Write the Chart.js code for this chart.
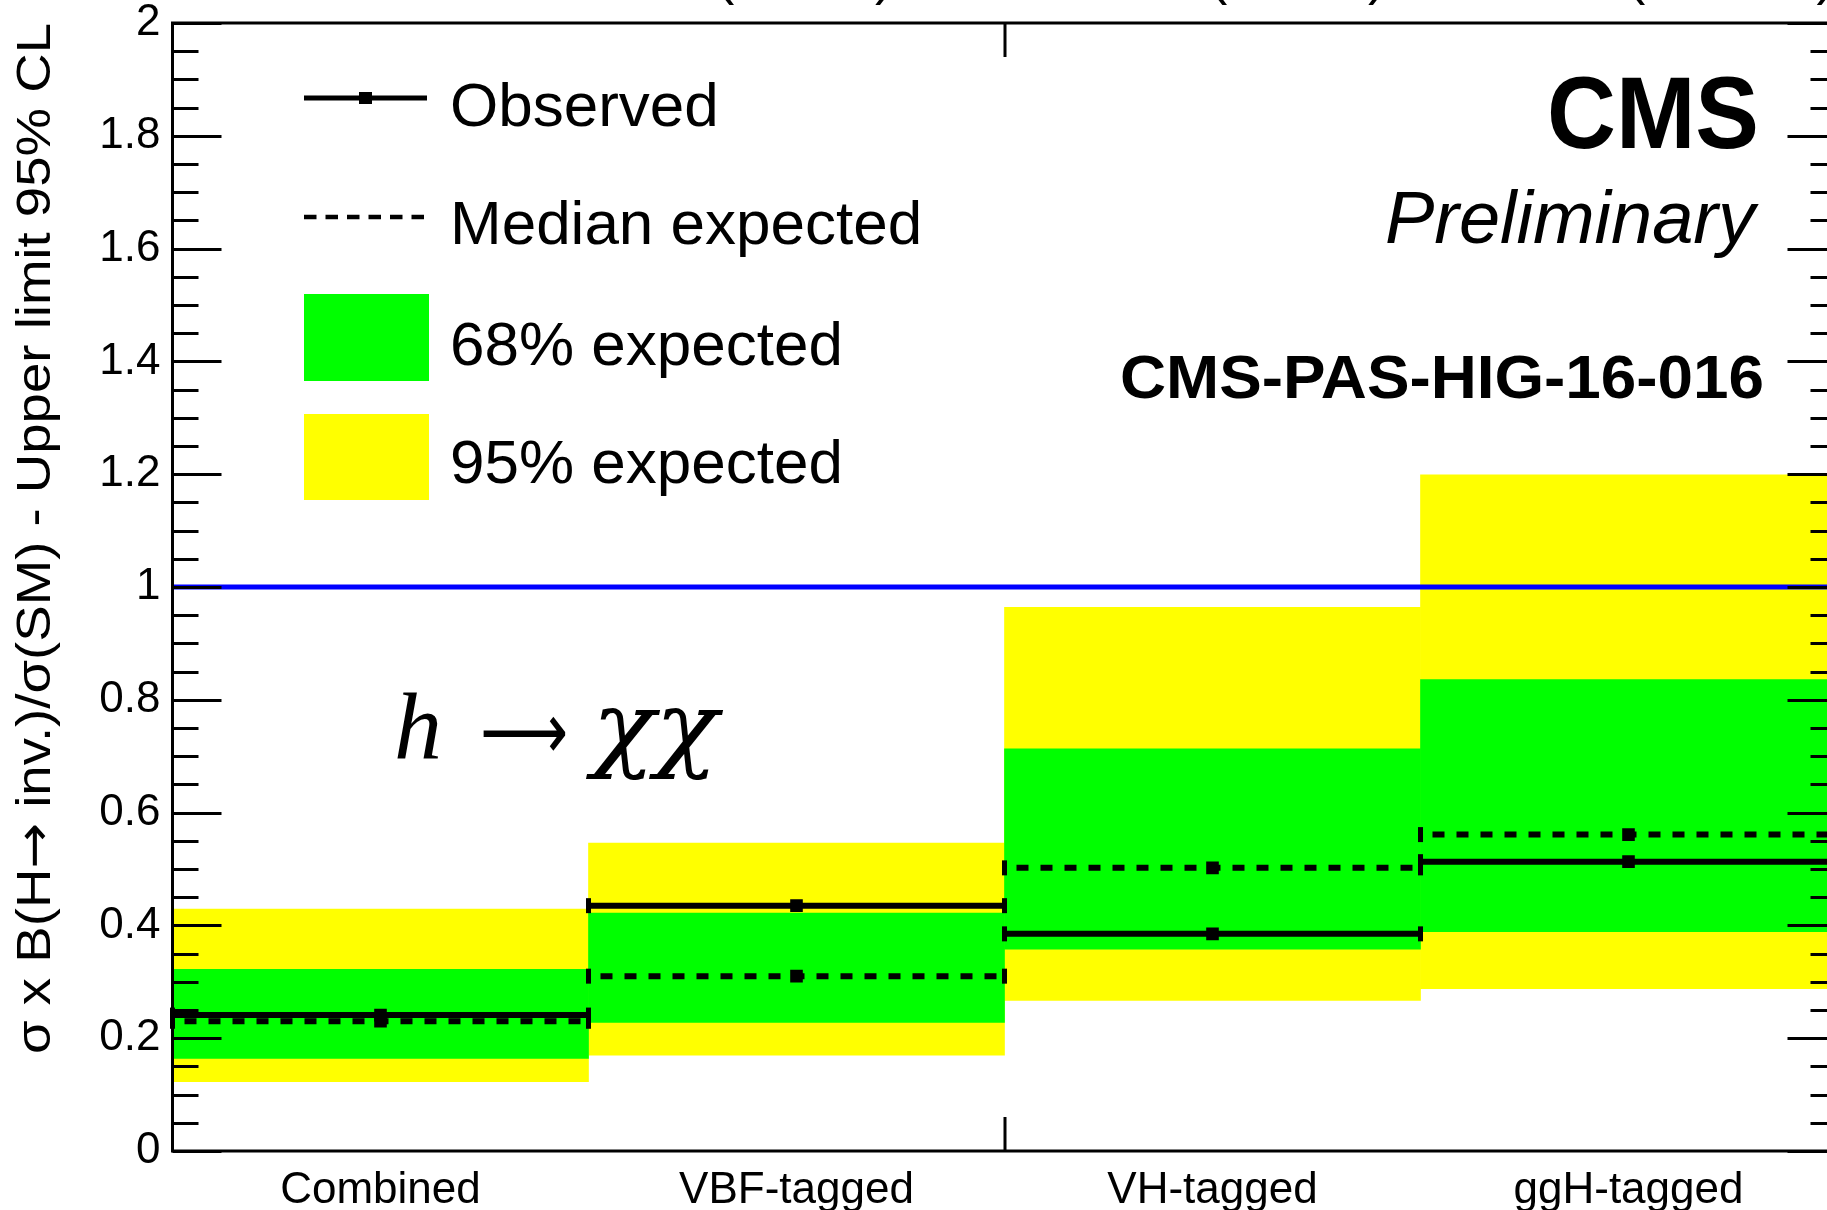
<!DOCTYPE html>
<html>
<head>
<meta charset="utf-8">
<script src="https://cdn.jsdelivr.net/npm/chart.js@4.4.1/dist/chart.umd.min.js"></script>
<style>
  html, body { margin: 0; padding: 0; background: #ffffff; overflow: hidden; }
  canvas { display: block; }
</style>
</head>
<body>
<canvas id="limits" width="1860" height="1210"></canvas>
<script>
// Upper limits on sigma x B(H -> inv.) / sigma(SM), 95% CL, per analysis category
const categories = ['Combined', 'VBF-tagged', 'VH-tagged', 'ggH-tagged'];
const observed   = [0.241, 0.435, 0.385, 0.513];
const expected   = [0.230, 0.310, 0.502, 0.561];
const band68Low  = [0.164, 0.228, 0.358, 0.389];
const band68High = [0.322, 0.422, 0.713, 0.836];
const band95Low  = [0.123, 0.170, 0.267, 0.288];
const band95High = [0.429, 0.546, 0.964, 1.199];
const smReference = 1;

const yTickValues = [0, 0.2, 0.4, 0.6, 0.8, 1, 1.2, 1.4, 1.6, 1.8, 2];
const yTickLabels = ['0', '0.2', '0.4', '0.6', '0.8', '1', '1.2', '1.4', '1.6', '1.8', '2'];
const yMinorStep = 0.05;
const xDivisionTicks = [2];

const SANS = '"Liberation Sans", Arial, Helvetica, sans-serif';
const SERIF = '"Liberation Serif", "DejaVu Serif", serif';
const SYMB = '"DejaVu Sans", sans-serif';

// One horizontal segment per category: left edge, centre, right edge, then a gap.
function binSegments(values) {
  const pts = [];
  values.forEach((v, i) => {
    pts.push({ x: i, y: v }, { x: i + 0.5, y: v }, { x: i + 1, y: v }, { x: i + 1, y: null });
  });
  return pts;
}

const isCentre = (c) => c.dataIndex % 4 === 1;
const markerStyle = (c) => (isCentre(c) ? 'rect' : 'line');
const markerRotation = (c) => (isCentre(c) ? 0 : 90);
const markerRadius = (c) => (isCentre(c) ? 7.5 : 7.5);
const markerBorder = (c) => (isCentre(c) ? 2 : 5);

function drawText(ctx, text, x, y, font, align, targetWidth) {
  ctx.save();
  ctx.font = font;
  const w = ctx.measureText(text).width;
  const sx = targetWidth ? targetWidth / w : 1;
  ctx.translate(x, y);
  ctx.scale(sx, 1);
  ctx.textAlign = align;
  ctx.textBaseline = 'alphabetic';
  ctx.fillStyle = '#000';
  ctx.fillText(text, 0, 0);
  ctx.restore();
}

// Text made of runs in different fonts, centred on (x, y) and fitted to a width
function drawRuns(ctx, runs, x, y, targetWidth) {
  ctx.save();
  let total = 0;
  const widths = runs.map(r => { ctx.font = r.font; const w = ctx.measureText(r.text).width; total += w; return w; });
  const sx = targetWidth ? targetWidth / total : 1;
  ctx.translate(x, y);
  ctx.scale(sx, 1);
  ctx.textAlign = 'left';
  ctx.textBaseline = 'alphabetic';
  ctx.fillStyle = '#000';
  let cx = -total / 2;
  runs.forEach((r, i) => { ctx.font = r.font; ctx.fillText(r.text, cx, r.dy || 0); cx += widths[i]; });
  ctx.restore();
}

// ROOT-style frame with inward ticks on both y axes
const framePlugin = {
  id: 'frame',
  afterDatasetsDraw(chart) {
    const { ctx, chartArea: a, scales } = chart;
    const y = scales.y, xl = scales.xl;
    ctx.save();
    ctx.strokeStyle = '#000';
    ctx.lineWidth = 3;
    ctx.lineCap = 'butt';
    ctx.strokeRect(a.left, a.top, a.right - a.left, a.bottom - a.top);
    const nMinor = Math.round((y.max - y.min) / yMinorStep);
    ctx.beginPath();
    for (let k = 0; k <= nMinor; k++) {
      const v = y.min + k * yMinorStep;
      const py = Math.round(y.getPixelForValue(v)) + 0.5;
      const len = (k % 4 === 0) ? 49 : 26;
      ctx.moveTo(a.left, py); ctx.lineTo(a.left + len, py);
      ctx.moveTo(a.right, py); ctx.lineTo(a.right - len, py);
    }
    xDivisionTicks.forEach(v => {
      const px = Math.round(xl.getPixelForValue(v));
      ctx.moveTo(px, a.top); ctx.lineTo(px, a.top + 34);
      ctx.moveTo(px, a.bottom); ctx.lineTo(px, a.bottom - 34);
    });
    ctx.stroke();
    ctx.restore();
  }
};

// Legend, labels and annotations
const textPlugin = {
  id: 'annotations',
  afterDraw(chart) {
    const { ctx } = chart;
    const ds = chart.data.datasets;

    // luminosity / energy header line (sits at the very top edge)
    const header = [
      { lumi: '4.9 fb\u207B\u00B9 ', energy: '(7 TeV)', x: 716 },
      { lumi: '+ 19.7 fb\u207B\u00B9 ', energy: '(8 TeV)', x: 1209 },
      { lumi: '+ 2.3 fb\u207B\u00B9 ', energy: '(13 TeV)', x: 1627 }
    ];
    header.forEach(h => {
      drawText(ctx, h.lumi, h.x, -7, '55px ' + SANS, 'right');
      drawText(ctx, h.energy, h.x, -7, '55px ' + SANS, 'left');
    });

    // y axis title
    ctx.save();
    ctx.translate(50, 538.5);
    ctx.rotate(-Math.PI / 2);
    drawRuns(ctx, [
      { text: '\u03C3 x B(H', font: '49px ' + SANS },
      { text: '\u2192', font: '49px ' + SYMB },
      { text: ' inv.)/\u03C3(SM) - Upper limit 95% CL', font: '49px ' + SANS }
    ], 0, 0, 1031);
    ctx.restore();

    // legend
    const obsDs = ds.find(d => d.key === 'obs');
    const expDs = ds.find(d => d.key === 'exp');
    const g68 = ds.find(d => d.key === 'b68');
    const y95 = ds.find(d => d.key === 'b95');
    const symL = 304, symR = 427, textX = 450;
    ctx.save();
    ctx.strokeStyle = '#000';
    ctx.lineWidth = 5;
    ctx.beginPath(); ctx.moveTo(symL, 98); ctx.lineTo(symR, 98); ctx.stroke();
    ctx.fillStyle = '#000';
    ctx.fillRect(359, 92, 13, 12);
    ctx.setLineDash([12.5, 9]);
    ctx.lineWidth = 4.5;
    ctx.beginPath(); ctx.moveTo(symL, 217); ctx.lineTo(symR, 217); ctx.stroke();
    ctx.setLineDash([]);
    ctx.fillStyle = g68.backgroundColor;
    ctx.fillRect(symL, 294, symR - symL + 2, 87);
    ctx.fillStyle = y95.backgroundColor;
    ctx.fillRect(symL, 414, symR - symL + 2, 86);
    ctx.restore();
    drawText(ctx, obsDs.label, textX, 126, '62px ' + SANS, 'left');
    drawText(ctx, expDs.label, textX, 244, '62px ' + SANS, 'left');
    drawText(ctx, g68.label, textX, 365, '62px ' + SANS, 'left');
    drawText(ctx, y95.label, textX, 483, '62px ' + SANS, 'left');

    // experiment labels
    drawText(ctx, 'CMS', 1759, 148, 'bold 102px ' + SANS, 'right', 212);
    drawText(ctx, 'Preliminary', 1755, 243, 'italic 74px ' + SANS, 'right');
    drawText(ctx, 'CMS-PAS-HIG-16-016', 1764, 398, 'bold 61px ' + SANS, 'right', 644);

    // process label
    drawText(ctx, 'h', 394, 759, 'italic 96px ' + SERIF, 'left');
    drawText(ctx, '\u27F6', 480, 759, '80px ' + SYMB, 'left', 88);
    drawText(ctx, '\u03C7\u03C7', 592, 759, 'italic 96px "DejaVu Serif", serif', 'left', 126);
  }
};

new Chart(document.getElementById('limits'), {
  data: {
    labels: categories,
    datasets: [
      {
        type: 'line', key: 'sm', label: 'SM', xAxisID: 'xl', yAxisID: 'y',
        data: [{ x: 0, y: smReference }, { x: categories.length, y: smReference }],
        borderColor: '#0000ff', borderWidth: 5, pointRadius: 0, order: 0, clip: false
      },
      {
        type: 'line', key: 'obs', label: 'Observed', xAxisID: 'xl', yAxisID: 'y',
        data: binSegments(observed), spanGaps: false,
        borderColor: '#000', borderWidth: 6, tension: 0,
        pointStyle: markerStyle, pointRotation: markerRotation, pointRadius: markerRadius,
        pointBorderWidth: markerBorder, pointBackgroundColor: '#000', pointBorderColor: '#000',
        order: 1, clip: false
      },
      {
        type: 'line', key: 'exp', label: 'Median expected', xAxisID: 'xl', yAxisID: 'y',
        data: binSegments(expected), spanGaps: false,
        borderColor: '#000', borderWidth: 6, borderDash: [12, 12], borderDashOffset: 12, tension: 0,
        pointStyle: markerStyle, pointRotation: markerRotation, pointRadius: markerRadius,
        pointBorderWidth: markerBorder, pointBackgroundColor: '#000', pointBorderColor: '#000',
        order: 2, clip: false
      },
      {
        type: 'bar', key: 'b68', label: '68% expected', xAxisID: 'x', yAxisID: 'y',
        data: band68Low.map((lo, i) => [lo, band68High[i]]),
        backgroundColor: '#00ff00', borderWidth: 0,
        barPercentage: 1, categoryPercentage: 1, grouped: false, order: 3
      },
      {
        type: 'bar', key: 'b95', label: '95% expected', xAxisID: 'x', yAxisID: 'y',
        data: band95Low.map((lo, i) => [lo, band95High[i]]),
        backgroundColor: '#ffff00', borderWidth: 0,
        barPercentage: 1, categoryPercentage: 1, grouped: false, order: 4
      }
    ]
  },
  options: {
    responsive: false,
    animation: false,
    devicePixelRatio: 1,
    layout: { padding: { top: 23, right: 23.5, left: 0, bottom: 0 } },
    plugins: { legend: { display: false }, tooltip: { enabled: false } },
    scales: {
      x: {
        type: 'category', position: 'bottom', offset: true,
        grid: { display: false, drawTicks: false }, border: { display: false },
        ticks: { color: '#000', font: { family: SANS, size: 44, lineHeight: 1 }, padding: 18, maxRotation: 0, autoSkip: false },
        afterFit: s => { s.height = 59; s.paddingLeft = 0; s.paddingRight = 0; }
      },
      xl: { type: 'linear', min: 0, max: categories.length, display: false },
      y: {
        type: 'linear', position: 'left', min: 0, max: 2,
        grid: { display: false, drawTicks: false }, border: { display: false },
        afterBuildTicks: s => { s.ticks = yTickValues.map(v => ({ value: v })); },
        ticks: {
          color: '#000', font: { family: SANS, size: 44, lineHeight: 1 }, padding: 12,
          callback: (v, i) => yTickLabels[i]
        },
        afterFit: s => { s.width = 172.5; s.paddingTop = 0; s.paddingBottom = 0; }
      }
    }
  },
  plugins: [framePlugin, textPlugin]
});
</script>
</body>
</html>
